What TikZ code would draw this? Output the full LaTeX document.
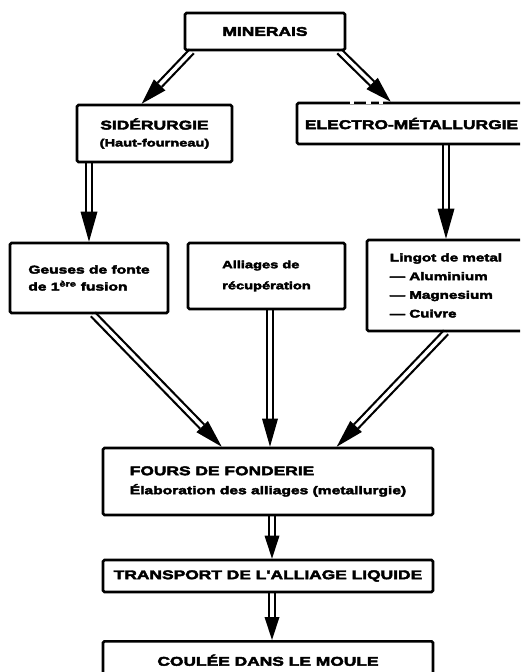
\documentclass[tikz,border=0pt]{standalone}
\usepackage{fontspec}
\newfontfamily\labfont{Liberation Sans}[FakeStretch=1.38, BoldFeatures={FakeStretch=1.38, FakeBold=3.6}]
\usetikzlibrary{calc}
\pgfdeclarelayer{bg}
\pgfsetlayers{bg,main}
\newcommand\hdfont{\labfont\bfseries\fontsize{12.6}{18}\selectfont}
\tikzset{
  box/.style={draw, line width=2.6pt, rounded corners=1.5pt, inner sep=0pt},
  shaft/.style={draw=black, line width=2.2pt, double=white, double distance=3.5pt},
}
% double-lined arrow with a solid triangular head: tail, tip, head length, head half-width
\newcommand\fatarrow[4]{%
  \begin{pgfonlayer}{bg}
    \coordinate (fa-base) at ($(#2)!#3!(#1)$);
    \draw[shaft] (#1) -- (fa-base);
    \fill (#2) -- ($(fa-base)!#4!90:(#2)$) -- ($(fa-base)!#4!-90:(#2)$) -- cycle;
  \end{pgfonlayer}}
\begin{document}
\begin{tikzpicture}[x=1pt,y=-1pt]
\useasboundingbox (0,0) rectangle (520,672);
\begin{pgfonlayer}{bg}
  \fill[white] (0,0) rectangle (520,672);
\end{pgfonlayer}
\clip (0,0) rectangle (520,672);

% boxes
\node[box, font=\hdfont, minimum width=160pt, minimum height=37pt] (min) at (265,31.5) {MINERAIS};
\node[box, font=\hdfont, align=center, minimum width=155pt, minimum height=57pt] (sid) at (154.5,133.5)
  {SIDÉRURGIE\\[-1pt]{\labfont\bfseries\fontsize{10.6}{18}\selectfont(Haut-fourneau)}};
\node[box, font=\hdfont, minimum width=229pt, minimum height=41pt] (ele) at (411.5,123.5) {ELECTRO-MÉTALLURGIE};
\node[box, font=\labfont\bfseries\fontsize{11.3}{17}\selectfont, align=left, minimum width=158pt, minimum height=70pt] (geu) at (89,278)
  {Geuses de fonte\\de 1\textsuperscript{ère} fusion};
\node[box, font=\labfont\bfseries\fontsize{10.6}{21}\selectfont, align=left, minimum width=157pt, minimum height=66pt] (all) at (266.5,276)
  {Alliages de\\récupération};
\node[box, font=\labfont\bfseries\fontsize{11}{18.7}\selectfont, align=left, minimum width=158pt, minimum height=91pt] (lin) at (446,285.5)
  {Lingot de metal\\— Aluminium\\— Magnesium\\— Cuivre};
\node[box, font=\hdfont, align=left, minimum width=330pt, minimum height=67pt] (fou) at (268,481.5)
  {FOURS DE FONDERIE\\[1pt]{\labfont\bfseries\fontsize{11.3}{18}\selectfont Élaboration des alliages (metallurgie)}};
\node[box, font=\hdfont, minimum width=330pt, minimum height=32pt] (tra) at (268,576) {TRANSPORT DE L'ALLIAGE LIQUIDE};
\node[box, font=\hdfont, minimum width=330pt, text height=24.4pt, text depth=40pt, anchor=north] (cou) at (268,640)
  {COULÉE DANS LE MOULE};

% broken stretches in the top edge of the electro-metallurgy box
\fill[white] ($(ele.north west)+(54pt,-2pt)$) rectangle ++(4pt,4pt);
\fill[white] ($(ele.north west)+(70pt,-2pt)$) rectangle ++(5pt,4pt);
\fill[white] ($(ele.north west)+(83pt,-2pt)$) rectangle ++(4pt,4pt);

% connector end points
\coordinate (a1t) at ($(min.south west)+(8pt,0)$);
\coordinate (a1h) at ($(sid.north west)+(66pt,0)$);
\coordinate (a2t) at ($(min.south east)+(-7pt,0)$);
\coordinate (a2h) at ($(ele.north west)+(95pt,0)$);
\coordinate (a3t) at (sid.south -| geu.north);
\coordinate (a3h) at (geu.north);
\coordinate (a4t) at (ele.south -| lin.north);
\coordinate (a4h) at (lin.north);
\coordinate (a5t) at ($(geu.south)+(4pt,0)$);
\coordinate (a5h) at ($(fou.north west)+(120pt,0)$);
\coordinate (a6t) at ($(all.south)+(3.5pt,0)$);
\coordinate (a6h) at (a6t |- fou.north);
\coordinate (a7t) at (lin.south);
\coordinate (a7h) at ($(fou.north west)+(235pt,0)$);
\coordinate (a8t) at ($(fou.south)+(4pt,0)$);
\coordinate (a8h) at (a8t |- tra.north);
\coordinate (a9t) at ($(tra.south)+(4pt,0)$);
\coordinate (a9h) at (a9t |- cou.north);

% connectors
\fatarrow{a1t}{a1h}{26pt}{8pt}
\fatarrow{a2t}{a2h}{26pt}{8pt}
\fatarrow{a3t}{a3h}{30pt}{8.5pt}
\fatarrow{a4t}{a4h}{30pt}{8.5pt}
\fatarrow{a5t}{a5h}{28pt}{8pt}
\fatarrow{a6t}{a6h}{28pt}{8pt}
\fatarrow{a7t}{a7h}{28pt}{8pt}
\fatarrow{a8t}{a8h}{23pt}{7.5pt}
\fatarrow{a9t}{a9h}{23pt}{7.5pt}
\end{tikzpicture}
\end{document}
